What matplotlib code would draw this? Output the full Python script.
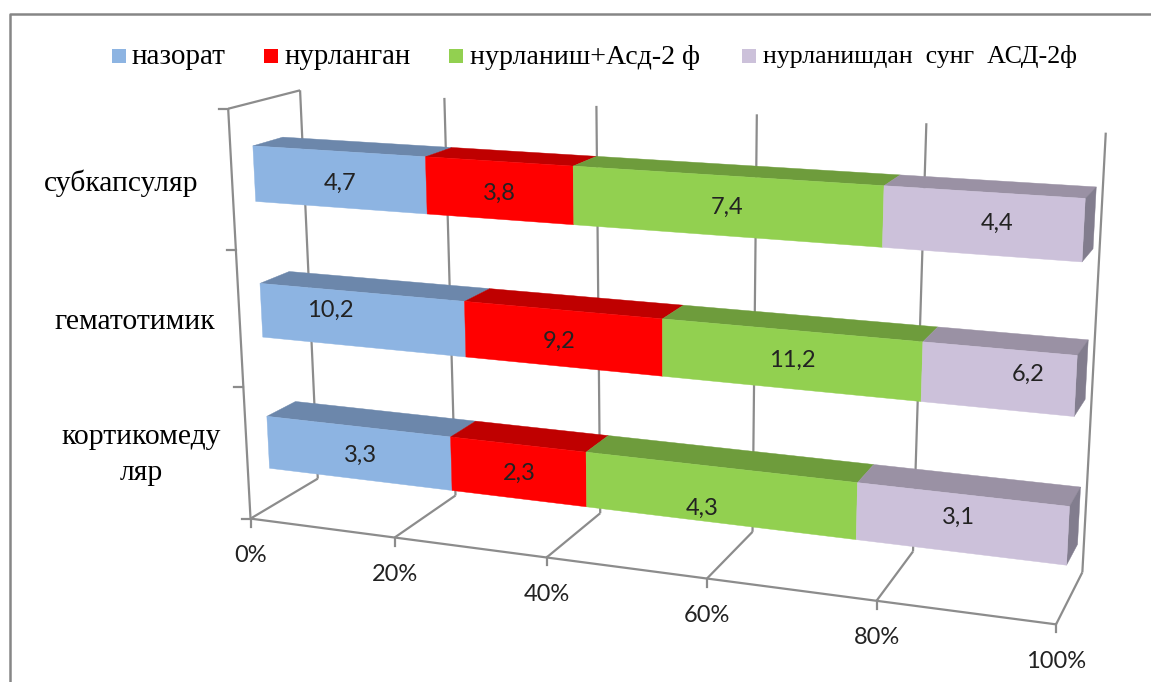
import numpy as np
import matplotlib
matplotlib.use("Agg")
import matplotlib.pyplot as plt
from matplotlib.patches import Polygon, Rectangle

# chart data
categories = ["кортикомеду\nляр", "гематотимик", "субкапсуляр"]
series_names = ["назорат", "нурланган", "нурланиш+Асд-2 ф", "нурланишдан  сунг  АСД-2ф"]
nazorat = [3.3, 10.2, 4.7]
nurlangan = [2.3, 9.2, 3.8]
nurlanish_asd = [4.3, 11.2, 7.4]
nurlanishdan_keyin = [3.1, 6.2, 4.4]
value_labels = [["3,3", "10,2", "4,7"], ["2,3", "9,2", "3,8"], ["4,3", "11,2", "7,4"], ["3,1", "6,2", "4,4"]]
x_ticks = [0, 20, 40, 60, 80, 100]

# styling
front_colors = ["#8DB4E2", "#FF0000", "#92D050", "#CCC1DA"]
top_colors = ["#6C87AB", "#BF0000", "#6E9C3C", "#9A91A4"]
side_color = "#827D8E"
line_color = "#8C8C8C"
BAND_LOW, BAND_HIGH = 0.295, 0.695
DEPTH_FRONT, DEPTH_BACK = 0.30, 0.72

# box corners and ticks (share, row, depth) -> canvas position, used to solve the camera
box_ref = [
    (0, 0, 0, 250, 518), (.2, 0, 0, 395, 538), (.4, 0, 0, 547, 558), (.6, 0, 0, 707, 578),
    (.8, 0, 0, 876.5, 601), (1, 0, 0, 1056, 624), (0, 3, 0, 228, 109),
    (0, 0, 1, 318, 478), (.2, 0, 1, 455, 496), (.6, 0, 1, 753, 532), (.8, 0, 1, 913, 551),
    (1, 0, 1, 1082, 573), (0, 3, 1, 300, 91), (.2, 3, 1, 445, 98), (.4, 3, 1, 596, 105),
    (.6, 3, 1, 757, 114), (.8, 3, 1, 926, 123), (1, 3, 1, 1106, 133),
]


def solve_camera(refs):
    rows, rhs = [], []
    for X, Y, Z, u, v in refs:
        rows.append([X, Y, Z, 1, 0, 0, 0, 0, -u * X, -u * Y, -u * Z])
        rows.append([0, 0, 0, 0, X, Y, Z, 1, -v * X, -v * Y, -v * Z])
        rhs += [u, v]
    p = np.linalg.lstsq(np.array(rows, float), np.array(rhs, float), rcond=None)[0]
    return np.append(p, 1).reshape(3, 4)


camera = solve_camera(box_ref)


def project(x, row, depth):
    u, v, w = camera @ np.array([x, row, depth, 1.0])
    return u / w, v / w


def face(ax, corners, color, z):
    ax.add_patch(Polygon([project(*c) for c in corners], closed=True, fc=color, ec=color, lw=0.3, zorder=z))


def line3d(ax, a, b, lw=1.6, z=2):
    pa, pb = project(*a), project(*b)
    ax.plot([pa[0], pb[0]], [pa[1], pb[1]], color=line_color, lw=lw, zorder=z, solid_capstyle="butt")


fig = plt.figure(figsize=(1151 / 100, 682 / 100), dpi=100)
ax = fig.add_axes([0, 0, 1, 1])
ax.set_xlim(0, 1151)
ax.set_ylim(682, 0)
ax.axis("off")

# outer chart border, only top and left are in view
ax.plot([10, 10, 1151], [682, 14, 14], color="#868686", lw=1.8, zorder=1)

# walls, floor and grid
for t in x_ticks:
    s = t / 100
    line3d(ax, (s, 0, 0), (s, 0, 1))
    line3d(ax, (s, 0, 1), (s, 3, 1))
    fx, fy = project(s, 0, 0)
    ax.plot([fx, fx], [fy, fy + 8], color=line_color, lw=1.6, zorder=2)
    ax.text(fx, fy + 37, f"{t}%", family="Lato", fontsize=17, color="#222222", ha="center", va="center")
line3d(ax, (0, 0, 0), (1, 0, 0))
line3d(ax, (0, 0, 0), (0, 3, 0))
line3d(ax, (0, 3, 0), (0, 3, 1))
for r in range(4):
    tx, ty = project(0, r, 0)
    ax.plot([tx - 9, tx], [ty, ty], color=line_color, lw=1.6, zorder=2)

# stacked bars
stack = np.array([nazorat, nurlangan, nurlanish_asd, nurlanishdan_keyin])
shares = stack / stack.sum(axis=0)
left_edges = np.vstack([np.zeros(3), np.cumsum(shares, axis=0)])
# data labels do not sit exactly in the middle of their segments
label_nudge = [[(2, 2), (-31, -9), (1, 4)], [(1, 2), (-3, 3), (0, 3)], [(-16, 13), (3, 1), (3, 2)], [(-2, -6), (30, -5), (15, 0)]]

for r in [2, 1, 0]:
    lo, hi = r + BAND_LOW, r + BAND_HIGH
    for k in range(4):
        a, b = left_edges[k, r], left_edges[k + 1, r]
        face(ax, [(a, hi, DEPTH_FRONT), (b, hi, DEPTH_FRONT), (b, hi, DEPTH_BACK), (a, hi, DEPTH_BACK)], top_colors[k], 3 + k * 0.1)
        if k == 3:
            face(ax, [(b, lo, DEPTH_FRONT), (b, hi, DEPTH_FRONT), (b, hi, DEPTH_BACK), (b, lo, DEPTH_BACK)], side_color, 3.5)
        face(ax, [(a, lo, DEPTH_FRONT), (b, lo, DEPTH_FRONT), (b, hi, DEPTH_FRONT), (a, hi, DEPTH_FRONT)], front_colors[k], 4)
        cx, cy = project((a + b) / 2, r + (BAND_LOW + BAND_HIGH) / 2, DEPTH_FRONT)
        dx, dy = label_nudge[k][r]
        ax.text(cx + dx, cy + dy, value_labels[k][r], family="Lato", fontsize=17, color="#222222", ha="center", va="center", zorder=5)

# category labels
label_xy = [(141, 455), (135, 322), (121, 183)]
for name, (lx, ly) in zip(categories, label_xy):
    ax.text(lx, ly, name, family="Liberation Serif", fontsize=21.3, color="black", ha="center", va="center", linespacing=1.48)

# legend
legend_swatch_x = [112, 264, 449, 742]
legend_text_x = [132, 285, 470, 763]
legend_sizes = [21, 20.8, 20.1, 18.7]
for name, col, sx, tx, fs in zip(series_names, front_colors, legend_swatch_x, legend_text_x, legend_sizes):
    ax.add_patch(Rectangle((sx, 49), 14, 14, fc=col, ec="none"))
    ax.text(tx, 57, name, family="Liberation Serif", fontsize=fs, color="black", ha="left", va="center")

fig.savefig("out.png", dpi=100)
